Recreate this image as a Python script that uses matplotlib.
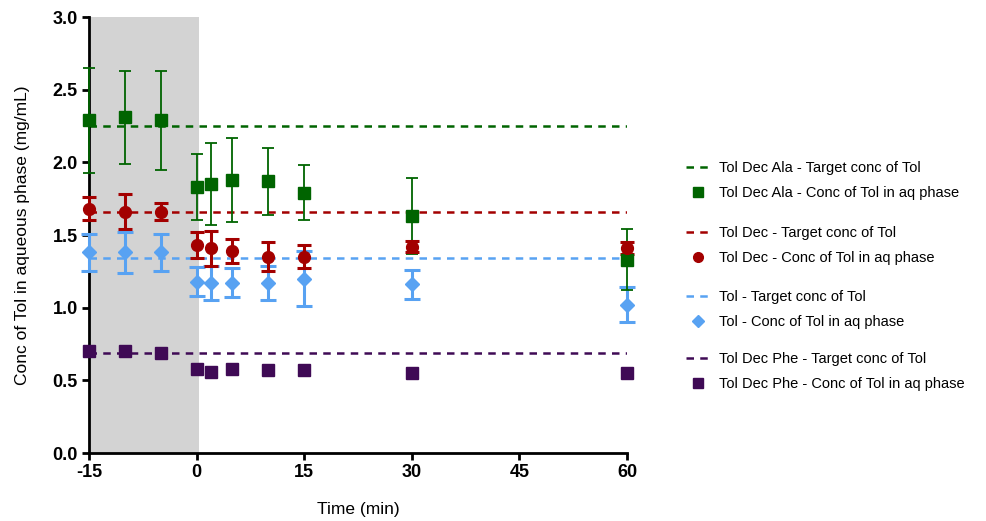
import matplotlib
matplotlib.use("Agg")
import matplotlib.pyplot as plt
from matplotlib.lines import Line2D
import numpy as np

plt.rcParams['font.family'] = ['Liberation Sans', 'DejaVu Sans']
plt.rcParams['axes.unicode_minus'] = False

time = [-15, -10, -5, 0, 2, 5, 10, 15, 30, 60]

ala_mean = [2.29, 2.31, 2.29, 1.83, 1.85, 1.88, 1.87, 1.79, 1.63, 1.33]
ala_err = [0.36, 0.32, 0.34, 0.23, 0.28, 0.29, 0.23, 0.19, 0.26, 0.21]
ala_target = 2.25

dec_mean = [1.68, 1.66, 1.66, 1.43, 1.41, 1.39, 1.35, 1.35, 1.42, 1.41]
dec_err = [0.08, 0.12, 0.06, 0.09, 0.12, 0.08, 0.10, 0.08, 0.04, 0.04]
dec_target = 1.66

tol_mean = [1.38, 1.38, 1.38, 1.18, 1.17, 1.17, 1.17, 1.20, 1.16, 1.02]
tol_err = [0.125, 0.14, 0.13, 0.10, 0.12, 0.10, 0.12, 0.19, 0.10, 0.12]
tol_target = 1.34

phe_mean = [0.70, 0.70, 0.69, 0.58, 0.56, 0.58, 0.57, 0.57, 0.553, 0.55]
phe_target = 0.69

c_ala = '#006400'
c_dec = '#a30000'
c_tol = '#58a2f2'
c_phe = '#3f0a55'

fig = plt.figure(figsize=(9.86, 5.21), dpi=100)
ax = fig.add_axes([89/986, 1-453/521, (627-89)/986, (453-17)/521])

ax.axvspan(-15, 0.4, color='#d3d3d3', zorder=0, lw=0)

tline = [-15, 60]
dash = (0, (3, 2.5))
ax.plot(tline, [ala_target]*2, ls=dash, color=c_ala, lw=1.8, zorder=2)
ax.plot(tline, [dec_target]*2, ls=dash, color=c_dec, lw=1.8, zorder=2)
ax.plot(tline, [tol_target]*2, ls=dash, color=c_tol, lw=1.8, zorder=2)
ax.plot(tline, [phe_target]*2, ls=dash, color=c_phe, lw=1.8, zorder=2)

ax.errorbar(time, ala_mean, yerr=ala_err, fmt='s', color=c_ala, ms=8, elinewidth=1.3,
            capsize=4, capthick=1.3, zorder=4, clip_on=False)
ax.errorbar(time, dec_mean, yerr=dec_err, fmt='o', color=c_dec, ms=8.5, elinewidth=2.2,
            capsize=5, capthick=2.2, zorder=4, clip_on=False)
ax.errorbar(time, tol_mean, yerr=tol_err, fmt='D', color=c_tol, ms=7, elinewidth=2.2,
            capsize=6, capthick=2.2, zorder=3, clip_on=False)
ax.plot(time, phe_mean, 's', color=c_phe, ms=8, zorder=4, clip_on=False)

ax.set_xlim(-15, 60)
ax.set_ylim(0, 3.0)
ax.set_xticks([-15, 0, 15, 30, 45, 60])
ax.set_yticks(np.arange(0, 3.01, 0.5))
ax.set_yticklabels([f'{v:.1f}' for v in np.arange(0, 3.01, 0.5)])
ax.spines['top'].set_visible(False)
ax.spines['right'].set_visible(False)
ax.spines['left'].set_linewidth(2)
ax.spines['bottom'].set_linewidth(2)
ax.tick_params(axis='both', width=2, length=5, labelsize=13, pad=3)
for lab in ax.get_xticklabels() + ax.get_yticklabels():
    lab.set_fontweight('bold')

ax.set_xlabel('Time (min)', fontsize=12.5, labelpad=15)
ax.set_ylabel('Conc of Tol in aqueous phase (mg/mL)', fontsize=12.5, labelpad=16)

groups = [
    ('Tol Dec Ala', c_ala, 's', 167),
    ('Tol Dec', c_dec, 'o', 232),
    ('Tol', c_tol, 'D', 296),
    ('Tol Dec Phe', c_phe, 's', 358),
]
for name, col, mk, ypx in groups:
    h1 = Line2D([], [], color=col, ls=dash, lw=1.8)
    h2 = Line2D([], [], color=col, marker=mk, ls='none', ms=7 if mk != 'D' else 6)
    fig.legend([h1, h2], [f'{name} - Target conc of Tol', f'{name} - Conc of Tol in aq phase'],
               loc='upper left', bbox_to_anchor=(680/986, 1-(ypx-12)/521),
               frameon=False, fontsize=10.5, handlelength=1.7, handletextpad=0.6,
               labelspacing=0.75, borderaxespad=0)

fig.savefig('out.png', dpi=100)
